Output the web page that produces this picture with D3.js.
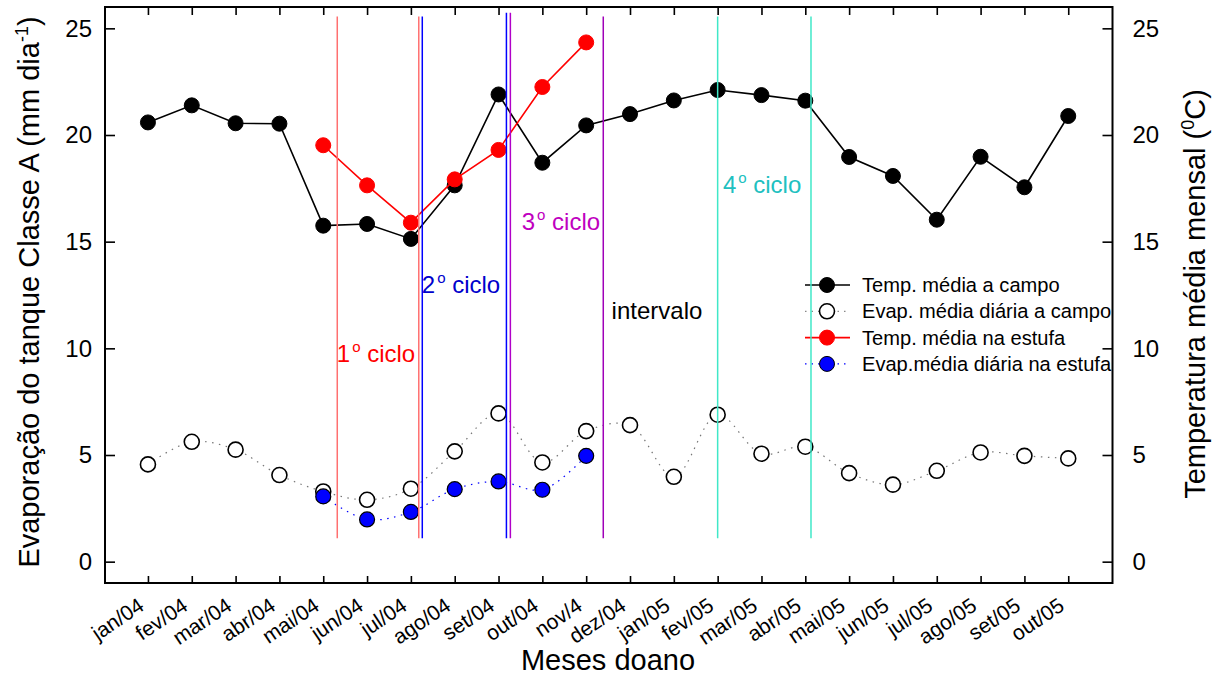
<!DOCTYPE html>
<html><head><meta charset="utf-8">
<script src="https://cdn.jsdelivr.net/npm/d3@7"></script>
<style>
body{margin:0;background:#fff;}
text{font-family:"Liberation Sans",Arial,sans-serif;}
</style></head>
<body><svg id="c" width="1221" height="678"></svg>
<script>
const months = ["jan/04","fev/04","mar/04","abr/04","mai/04","jun/04","jul/04","ago/04","set/04","out/04","nov/4","dez/04","jan/05","fev/05","mar/05","abr/05","mai/05","jun/05","jul/05","ago/05","set/05","out/05"];
const tempCampo = [20.59,21.39,20.55,20.53,15.75,15.83,15.13,17.64,21.9,18.7,20.45,20.98,21.62,22.11,21.87,21.61,18.97,18.08,16.03,18.98,17.55,20.89];
const evapCampo = [4.56,5.62,5.25,4.06,3.29,2.90,3.42,5.17,6.95,4.65,6.12,6.40,3.98,6.89,5.06,5.39,4.15,3.61,4.26,5.12,4.96,4.84];
const estufaMonths = ["mai/04","jun/04","jul/04","ago/04","set/04","out/04","nov/4"];
const tempEstufa = [19.52,17.64,15.89,17.92,19.3,22.25,24.34];
const evapEstufa = [3.06,1.98,2.33,3.40,3.76,3.37,4.96];
const yTicks = [0,5,10,15,20,25];
// cycle boundaries, in month-index units, with their vertical extent (axis units)
const cycleLines = [
  {pos:4.32, top:25.55, bottom:1.1, color:"#ff7070"},
  {pos:6.18, top:25.55, bottom:1.1, color:"#ff7070"},
  {pos:6.26, top:25.55, bottom:1.1, color:"#0000ff"},
  {pos:8.18, top:25.73, bottom:1.1, color:"#0000ff"},
  {pos:8.27, top:25.73, bottom:1.1, color:"#b000c8"},
  {pos:10.39, top:25.55, bottom:1.1, color:"#a000b8"},
  {pos:13.0, top:25.55, bottom:1.1, color:"#40e8c8"},
  {pos:15.13, top:25.55, bottom:1.1, color:"#40e8c8"}
];
const cycleLabels = [
  {pos:4.31, val:9.38, main:"1", sup:"o", rest:" ciclo", color:"#ff0000"},
  {pos:6.25, val:12.61, main:"2", sup:"o", rest:" ciclo", color:"#0000cc"},
  {pos:8.53, val:15.55, main:"3", sup:"o", rest:" ciclo", color:"#c000c0"},
  {pos:13.12, val:17.28, main:"4", sup:"o", rest:" ciclo", color:"#20c0c0"},
  {pos:10.58, val:11.38, main:"intervalo", sup:"", rest:"", color:"#000000"}
];
const legendItems = [
  {label:"Temp. média a campo", line:"#000", dash:null, fill:"#000"},
  {label:"Evap. média diária a campo", line:"#888", dash:"1.5,5", fill:"#fff"},
  {label:"Temp. média na estufa", line:"#ff0000", dash:null, fill:"#ff0000"},
  {label:"Evap.média diária na estufa", line:"#0000ff", dash:"1.5,5", fill:"#0000ff"}
];

const svg = d3.select("#c");
const L=105, R=1112.5, T=7, B=583;
const x = d3.scaleLinear().domain([-0.98, 22.01]).range([L, R]);
const y = d3.scaleLinear().domain([-1.0, 26.0]).range([B, T]);
const idx = m => months.indexOf(m);

svg.append("defs").append("clipPath").attr("id","clip")
  .append("rect").attr("x",L).attr("y",T).attr("width",R-L).attr("height",B-T);

// axes
const gB = svg.append("g").attr("transform",`translate(0,${B})`)
  .call(d3.axisBottom(x).tickValues(d3.range(months.length)).tickFormat(i=>months[i]).tickSize(-7).tickSizeOuter(0));
gB.selectAll("text").attr("x",0).attr("y",0).attr("dy",0)
  .attr("transform","translate(-3,26) rotate(-34)").style("text-anchor","end")
  .attr("font-size",21).attr("fill","#000");
const gT = svg.append("g").attr("transform",`translate(0,${T})`)
  .call(d3.axisTop(x).tickValues(d3.range(months.length)).tickFormat("").tickSize(-8).tickSizeOuter(0));
const gL = svg.append("g").attr("transform",`translate(${L},0)`)
  .call(d3.axisLeft(y).tickValues(yTicks).tickSize(-10).tickPadding(13).tickSizeOuter(0));
gL.selectAll("text").attr("font-size",24).attr("fill","#000");
const gR = svg.append("g").attr("transform",`translate(${R},0)`)
  .call(d3.axisRight(y).tickValues(yTicks).tickSize(-10).tickPadding(20).tickSizeOuter(0));
gR.selectAll("text").attr("font-size",24).attr("fill","#000");
[gB,gT,gL,gR].forEach(g=>{
  g.select(".domain").remove();
  g.selectAll(".tick line").attr("stroke","#000").attr("stroke-width",1.6);
  g.attr("font-family",null);
});
svg.append("rect").attr("x",L).attr("y",T).attr("width",R-L).attr("height",B-T)
  .attr("fill","none").attr("stroke","#000").attr("stroke-width",2);

// series
const lineGen = d3.line().x(d=>x(d[0])).y(d=>y(d[1]));
const curveGen = d3.line().x(d=>x(d[0])).y(d=>y(d[1])).curve(d3.curveCatmullRom.alpha(0.5));
const campoT = tempCampo.map((v,i)=>[i,v]);
const campoE = evapCampo.map((v,i)=>[i,v]);
const estT = tempEstufa.map((v,i)=>[idx(estufaMonths[i]),v]);
const estE = evapEstufa.map((v,i)=>[idx(estufaMonths[i]),v]);

function series(data, gen, stroke, sw, dash, fill, mstroke, msw){
  const g = svg.append("g");
  g.append("path").attr("d",gen(data)).attr("fill","none").attr("stroke",stroke)
    .attr("stroke-width",sw).attr("stroke-dasharray",dash);
  g.selectAll("circle").data(data).join("circle")
    .attr("cx",d=>x(d[0])).attr("cy",d=>y(d[1])).attr("r",7.5)
    .attr("fill",fill).attr("stroke",mstroke).attr("stroke-width",msw);
}
series(campoT, lineGen, "#000", 1.6, null, "#000", "#000", 1);
series(campoE, curveGen, "#777", 1.2, "1.5,5.5", "#fff", "#000", 1.6);
series(estT, lineGen, "#ff0000", 1.6, null, "#ff0000", "#ff0000", 1);
series(estE, curveGen, "#0000ff", 1.2, "1.5,5.5", "#0000ff", "#000", 1.2);

// legend
const lg = svg.append("g").attr("clip-path","url(#clip)");
legendItems.forEach((d,i)=>{
  const cy = 285 + i*26.3;
  lg.append("line").attr("x1",805).attr("x2",850).attr("y1",cy).attr("y2",cy)
    .attr("stroke",d.line).attr("stroke-width",d.dash?1.2:1.6).attr("stroke-dasharray",d.dash);
  lg.append("circle").attr("cx",827).attr("cy",cy).attr("r",7.5).attr("fill",d.fill)
    .attr("stroke",d.fill==="#ff0000"?"#ff0000":"#000").attr("stroke-width",d.fill==="#fff"?1.6:1);
  lg.append("text").attr("x",862).attr("y",cy+7).attr("font-size",20.1).attr("fill","#000").text(d.label);
});

// cycle lines (on top)
svg.append("g").selectAll("line").data(cycleLines).join("line")
  .attr("x1",d=>x(d.pos)).attr("x2",d=>x(d.pos)).attr("y1",d=>y(d.top)).attr("y2",d=>y(d.bottom))
  .attr("stroke",d=>d.color).attr("stroke-width",1.5);

// cycle labels
cycleLabels.forEach(d=>{
  const t = svg.append("text").attr("x",x(d.pos)).attr("y",y(d.val)).attr("font-size",24).attr("fill",d.color);
  t.append("tspan").text(d.main);
  if(d.sup){
    t.append("tspan").attr("font-size",15).attr("dy",-10).attr("dx",2).text(d.sup);
    t.append("tspan").attr("dy",10).text(d.rest);
  }
});

// axis titles
const lt = svg.append("text").attr("transform","translate(38.5,292) rotate(-90)")
  .attr("text-anchor","middle").attr("font-size",29).attr("fill","#000");
lt.append("tspan").text("Evaporação do tanque Classe A (mm dia");
lt.append("tspan").attr("font-size",18).attr("dy",-11).text("-1");
lt.append("tspan").attr("dy",11).text(")");
const rt = svg.append("text").attr("transform","translate(1205,294) rotate(-90)")
  .attr("text-anchor","middle").attr("font-size",29).attr("fill","#000");
rt.append("tspan").text("Temperatura média mensal (");
rt.append("tspan").attr("font-size",18).attr("dy",-11).text("0");
rt.append("tspan").attr("dy",11).text("C)");
svg.append("text").attr("x",608).attr("y",670).attr("text-anchor","middle")
  .attr("font-size",29).attr("fill","#000").text("Meses doano");
</script></body></html>
